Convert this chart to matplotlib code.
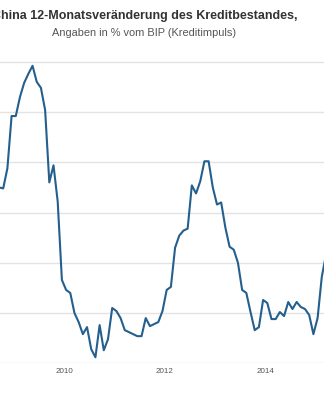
import numpy as np
import matplotlib
matplotlib.use("Agg")
import matplotlib.pyplot as plt

plt.rcParams["font.family"] = ["Liberation Sans", "DejaVu Sans"]

# monthly credit impulse, % of GDP, starting Sep 2008
start_year = 2008 + 8.5 / 12
impulse = [
    7.5, 7.4, 9.4, 14.6, 14.6, 16.5, 17.9, 18.8, 19.6, 18.0,
    17.4, 15.2, 8.0, 9.7, 6.1, -1.7, -2.7, -3.0, -5.0, -5.9,
    -7.1, -6.4, -8.6, -9.4, -6.2, -8.7, -7.6, -4.5, -4.8, -5.5,
    -6.7, -6.9, -7.1, -7.3, -7.3, -5.5, -6.3, -6.1, -5.9, -4.8,
    -2.7, -2.4, 1.5, 2.7, 3.2, 3.4, 7.7, 6.9, 8.1, 10.1,
    10.1, 7.5, 5.8, 6.0, 3.5, 1.6, 1.3, 0.0, -2.7, -3.0,
    -4.9, -6.7, -6.4, -3.7, -4.0, -5.6, -5.6, -4.9, -5.3, -3.9,
    -4.6, -3.9, -4.4, -4.6, -5.2, -7.1, -5.5, -1.4, 0.8,
]
years = [2010, 2012, 2014]
grid_values = [-10, -5, 0, 5, 10, 15, 20]

t = start_year + np.arange(len(impulse)) / 12.0

fig = plt.figure(figsize=(3.24, 4.0), dpi=100)
ax = fig.add_axes([0, 0.09175, 1, 0.875 - 0.09175])

ax.plot(t, impulse, color="#245f8e", lw=1.5, solid_joinstyle="round", zorder=3)

ax.set_xlim(2008.728, 2015.169)
ax.set_ylim(-10, 21.17)
ax.set_yticks(grid_values)
ax.set_yticklabels([])
ax.yaxis.grid(True, color="#e3e3e3", lw=1.0)
ax.set_xticks(years)
ax.set_xticklabels([str(y) for y in years], fontsize=5.8, color="#555555")
ax.tick_params(axis="x", length=0, pad=3.5)
ax.tick_params(axis="y", length=0)
for s in ax.spines.values():
    s.set_visible(False)

fig.text(144.5 / 324, 1 - 16 / 400, "China 12-Monatsveränderung des Kreditbestandes,",
         ha="center", va="center", fontsize=9.0, fontweight="bold", color="#333333")
fig.text(144 / 324, 1 - 33 / 400, "Angaben in % vom BIP (Kreditimpuls)",
         ha="center", va="center", fontsize=7.9, color="#555555")

fig.savefig("out.png", dpi=100)
